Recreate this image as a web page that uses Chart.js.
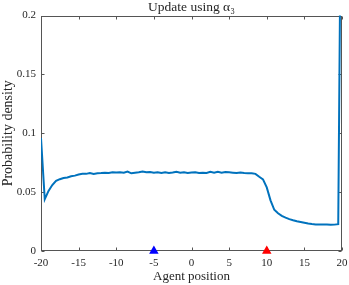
<!DOCTYPE html>
<html>
<head>
<meta charset="utf-8">
<script src="https://cdn.jsdelivr.net/npm/chart.js"></script>
<style>
  html, body { margin: 0; padding: 0; background: #fff; }
  #wrap { width: 349px; height: 285px; }
</style>
</head>
<body>
<div id="wrap"><canvas id="chart"></canvas></div>
<script>
// Agent positions (x) and probability density
const positions = [
  -20, -19.5, -19, -18.5, -18, -17.5, -17, -16.5, -16, -15.5,
  -15, -14.5, -14, -13.5, -13, -12.5, -12, -11.5, -11, -10.5,
  -10, -9.5, -9, -8.5, -8, -7.5, -7, -6.5, -6, -5.5,
  -5, -4.5, -4, -3.5, -3, -2.5, -2, -1.5, -1, -0.5,
  0, 0.5, 1, 1.5, 2, 2.5, 3, 3.5, 4, 4.5,
  5, 5.5, 6, 6.5, 7, 7.5, 8, 8.5, 9, 9.5,
  10, 10.5, 11, 11.5, 12, 12.5, 13, 13.5, 14, 14.5,
  15, 15.5, 16, 16.5, 17, 17.5, 18, 18.5, 19, 19.5,
  20
];
const density = [
  0.096, 0.044, 0.051, 0.056, 0.0595, 0.061, 0.062, 0.0625, 0.0635, 0.064,
  0.065, 0.0655, 0.0655, 0.0663, 0.0655, 0.066, 0.0662, 0.0665, 0.0663, 0.0668,
  0.0666, 0.0668, 0.0665, 0.0675, 0.066, 0.0665, 0.0668, 0.0675, 0.0668, 0.067,
  0.0665, 0.0668, 0.0662, 0.0668, 0.0663, 0.0666, 0.0672, 0.0665, 0.0668, 0.0663,
  0.0667, 0.0668, 0.0662, 0.0665, 0.0662, 0.0672, 0.0665, 0.0672, 0.0665, 0.067,
  0.0668, 0.0665, 0.0662, 0.0667, 0.0663, 0.066, 0.066, 0.0655, 0.063, 0.0608,
  0.054, 0.043, 0.035, 0.032, 0.0298, 0.0283, 0.0271, 0.0261, 0.0252, 0.0246,
  0.024, 0.0233, 0.0229, 0.0226, 0.0226, 0.0225, 0.0224, 0.0222, 0.0224, 0.0228,
  0.42
];

// triangle markers on the x axis
const markerX = [-5, 10];
const markerY = [0, 0];
const markerColors = ['#0000ff', '#ff0000'];

const xTicks = [-20, -15, -10, -5, 0, 5, 10, 15, 20];
const yTicks = [0, 0.05, 0.1, 0.15, 0.2];

const textColor = '#262626';
const serif = "'Liberation Serif', 'DejaVu Serif', serif";

// MATLAB-like box with inward ticks
const boxPlugin = {
  id: 'box',
  beforeDatasetsDraw(chart) {
    const { ctx, chartArea: a, scales } = chart;
    const L = Math.round(a.left) + 0.5, R = Math.round(a.right) - 0.5;
    const T = Math.round(a.top) + 0.5, B = Math.round(a.bottom) - 0.5;
    ctx.save();
    ctx.strokeStyle = '#555555';
    ctx.lineWidth = 1;
    ctx.strokeRect(L, T, R - L, B - T);
    ctx.beginPath();
    xTicks.forEach(v => {
      const px = Math.round(scales.x.getPixelForValue(v)) + 0.5;
      ctx.moveTo(px, B); ctx.lineTo(px, B - 3);
      ctx.moveTo(px, T); ctx.lineTo(px, T + 3);
    });
    yTicks.forEach(v => {
      const py = Math.round(scales.y.getPixelForValue(v)) + 0.5;
      ctx.moveTo(L, py); ctx.lineTo(L + 3, py);
      ctx.moveTo(R, py); ctx.lineTo(R - 3, py);
    });
    ctx.stroke();
    ctx.restore();
  }
};

new Chart(document.getElementById('chart'), {
  type: 'scatter',
  data: {
    datasets: [
      {
        data: positions.map((x, i) => ({ x: x, y: density[i] })),
        showLine: true,
        borderColor: '#0072BD',
        borderWidth: 2,
        pointRadius: 0,
        tension: 0,
        order: 2
      },
      {
        data: markerX.map((x, i) => ({ x: x, y: markerY[i] })),
        pointStyle: 'triangle',
        pointRadius: 5.5,
        backgroundColor: markerColors,
        borderColor: markerColors,
        borderWidth: 0,
        clip: false,
        order: 1
      }
    ]
  },
  plugins: [boxPlugin],
  options: {
    responsive: true,
    maintainAspectRatio: false,
    animation: false,
    events: [],
    layout: { padding: { left: 0, right: 7, top: 1, bottom: 0 } },
    plugins: {
      legend: { display: false },
      tooltip: { enabled: false },
      title: {
        display: true,
        text: 'Update using α₃',
        fullSize: false,
        color: textColor,
        font: { family: serif, size: 13.5, weight: 'normal', lineHeight: 1 },
        padding: { top: 0, bottom: 1 }
      }
    },
    scales: {
      x: {
        type: 'linear',
        min: -20,
        max: 20,
        afterFit: s => { s.height = 34; s.paddingLeft = 0; s.paddingRight = 0; },
        afterBuildTicks: s => { s.ticks = xTicks.map(v => ({ value: v })); },
        grid: { display: false, drawTicks: false },
        border: { display: false },
        ticks: {
          color: textColor,
          font: { family: serif, size: 11 },
          padding: 6,
          maxRotation: 0,
          autoSkip: false,
          callback: v => String(v)
        },
        title: {
          display: true,
          text: 'Agent position',
          color: textColor,
          font: { family: serif, size: 13 },
          padding: { top: 0, bottom: 1 }
        }
      },
      y: {
        type: 'linear',
        min: 0,
        max: 0.2,
        afterFit: s => { s.width = 41; },
        afterBuildTicks: s => { s.ticks = yTicks.map(v => ({ value: v })); },
        grid: { display: false, drawTicks: false },
        border: { display: false },
        ticks: {
          color: textColor,
          font: { family: serif, size: 11 },
          padding: 5,
          autoSkip: false,
          callback: v => String(+v.toFixed(2))
        },
        title: {
          display: true,
          text: 'Probability density',
          color: textColor,
          font: { family: serif, size: 14 },
          padding: { top: 0, bottom: 0 }
        }
      }
    }
  }
});
</script>
</body>
</html>
